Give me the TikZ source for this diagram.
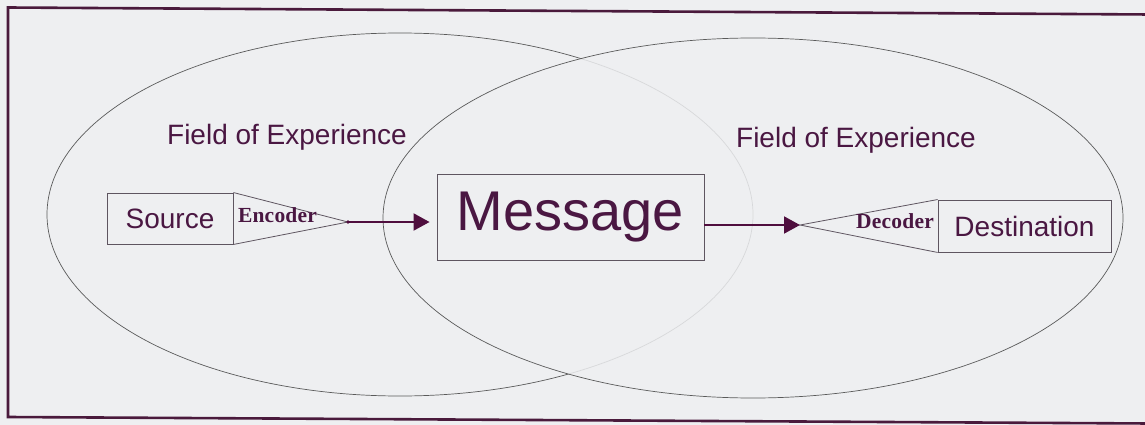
\documentclass[tikz,border=0pt]{standalone}
\usepackage{fontspec}
\setmainfont{Liberation Sans}
\newfontfamily\codefont{Liberation Serif}[LetterSpace=1]
\usetikzlibrary{arrows.meta}
\definecolor{bg}{HTML}{EEEFF1}
\definecolor{ink}{HTML}{4A1742}
\definecolor{edgec}{HTML}{5A5A5A}
\definecolor{boxc}{HTML}{5E5560}
\definecolor{arrowc}{HTML}{4F0E3E}
\definecolor{framec}{HTML}{4A1A3C}
\begin{document}
\begin{tikzpicture}[x=1pt,y=-1pt,
  box/.style={draw=boxc, line width=0.9pt, inner sep=0pt, text=ink, font=\fontsize{28}{30}\selectfont},
  field/.style={text=ink, font=\fontsize{28}{30}\selectfont},
  codetext/.style={text=ink, font=\codefont\bfseries\fontsize{21.5}{23}\selectfont, inner sep=0pt},
  cone/.style={draw=boxc, line width=0.8pt},
  ell/.style={draw=edgec, line width=0.7pt},
  flow/.style={draw=arrowc, line width=2pt, -{Triangle[length=16pt,width=17pt]}},
  frameline/.style={draw=framec, line width=2.6pt}
]
\useasboundingbox[fill=bg] (0,0) rectangle (1145,425);
% frame
\draw[frameline] (1150,14.5) -- (8,7.5) -- (8,417) -- (1150,423.5);
% ellipses
\draw[ell] (400,214.5) ellipse [x radius=353, y radius=181.5];
\draw[ell, fill=bg, fill opacity=0.85] (753,218) ellipse [x radius=370, y radius=180];
% labels
\node[field] (fl) at (287,137) {Field of Experience};
\node[field] (fr) at (856,140) {Field of Experience};
% boxes
\node[box, minimum width=126pt, minimum height=51pt] (src) at (170,218.5) {Source};
\node[box, minimum width=267pt, minimum height=86pt, font=\fontsize{56}{60}\selectfont] (msg) at (570.5,217) {Message};
\node[box, minimum width=173pt, minimum height=52pt] (dst) at (1024.5,226) {Destination};
% encoder / decoder cones
\coordinate (enctip) at (348,222);
\coordinate (dectip) at (800,225);
\draw[cone] (src.north east) -- (enctip) -- (src.south east);
\draw[cone] (dst.north west) -- (dectip) -- (dst.south west);
\node[codetext] (enc) at (277.5,215) {Encoder};
\node[codetext] (dec) at (895,221.5) {Decoder};
\fill[arrowc] (enctip) circle (1.8pt);
% flows
\draw[flow, shorten >=7pt] (enctip) -- (enctip -| msg.west);
\draw[flow] (msg.east |- dectip) -- (dectip);
\end{tikzpicture}
\end{document}
